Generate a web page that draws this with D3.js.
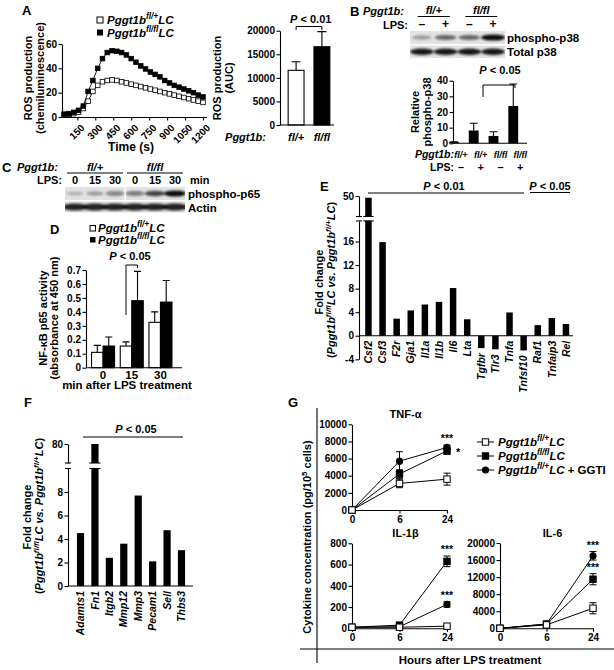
<!DOCTYPE html>
<html>
<head>
<meta charset="utf-8">
<script src="https://cdn.jsdelivr.net/npm/d3@7"></script>
<style>
body { margin: 0; background: #fff; }
svg { font-family: "Liberation Sans", Arial, sans-serif; font-weight: bold; }
</style>
</head>
<body>
<svg width="614" height="670"></svg>
<script>
// ---- data ----
var rosTime = [40, 80, 120, 160, 200, 240, 280, 320, 360, 400, 440, 480, 520, 560, 600,
    640, 680, 720, 760, 800, 840, 880, 920, 960, 1000, 1040, 1080, 1120, 1160, 1200];
var rosFlPlus = [2, 2.2, 2.8, 4, 7, 13, 21, 26, 29, 30, 30.5, 30, 29, 28, 27,
    26, 25, 24, 23, 22, 21, 20, 19, 18, 17, 16, 15, 14, 13, 12];
var rosFlFl = [2.3, 2.8, 3.8, 5.5, 9, 21, 30, 40, 48, 53, 54.5, 54, 53, 51, 48,
    45, 42, 39.5, 37, 35, 33, 30, 28, 26, 24.5, 23, 21.5, 20, 18, 16.5];
var rosTicksX = [150, 300, 450, 600, 750, 900, 1050, 1200];
var rosTicksY = [0, 20, 40, 60];

var aucGroups = ["fl/+", "fl/fl"];
var aucMean = [11600, 16600];
var aucErr = [1800, 3200];
var aucTicks = [0, 5000, 10000, 15000, 20000];

var p38Geno = ["fl/+", "fl/+", "fl/fl", "fl/fl"];
var p38Lps = ["\u2013", "+", "\u2013", "+"];
var p38Mean = [0.8, 8.2, 4.7, 23.8];
var p38Err = [0.2, 4.6, 2.7, 14.1];
var p38Ticks = [0, 10, 20, 30, 40];
var p38Band = [0.3, 0.6, 0.6, 1];
var p38Total = [0.95, 0.95, 0.95, 0.95];

var p65Min = ["0", "15", "30", "0", "15", "30"];
var p65Band = [0.2, 0.3, 0.45, 0.5, 0.75, 1];
var actinBand = [0.9, 0.9, 0.9, 0.9, 0.9, 0.9];

var nfkbMin = ["0", "15", "30"];
var nfkbFlPlus = [0.11, 0.155, 0.325];
var nfkbFlPlusErr = [0.05, 0.03, 0.075];
var nfkbFlFl = [0.155, 0.48, 0.47];
var nfkbFlFlErr = [0.065, 0.21, 0.155];
var nfkbTicks = [0, 0.1, 0.2, 0.3, 0.4, 0.5, 0.6, 0.7];

var eGenes = ["Csf2", "Csf3", "F2r", "Gja1", "Il1a", "Il1b", "Il6", "Lta", "Tgfbr",
    "Tlr3", "Tnfa", "Tnfsf10", "Raf1", "Tnfaip3", "Rel"];
var eFold = [49.7, 15.9, 2.9, 4.3, 5.3, 5.75, 8.1, 2.8, -2.1, -2.3, 3.95, -2.5, 1.8, 3.0, 2.0];
var eTicksLow = [-4, 0, 4, 8, 12, 16];
var eTicksUp = [50];

var fGenes = ["Adamts1", "Fn1", "Itgb2", "Mmp12", "Mmp3", "Pecam1", "Sell", "Thbs3"];
var fFold = [4.5, 80, 2.4, 3.6, 7.7, 2.1, 4.75, 3.05];
var fTicksLow = [0, 2, 4, 6, 8];
var fTicksUp = [80];

var hours = [0, 6, 24];
var tnfOpen = [0, 3100, 3600], tnfOpenErr = [0, 500, 700];
var tnfFl = [0, 4200, 6900], tnfFlErr = [0, 500, 400];
var tnfGgti = [0, 5700, 7300], tnfGgtiErr = [0, 1100, 250];
var il1bOpen = [10, 10, 20], il1bOpenErr = [0, 5, 5];
var il1bFl = [10, 30, 630], il1bFlErr = [0, 10, 50];
var il1bGgti = [10, 15, 225], il1bGgtiErr = [0, 5, 25];
var il6Open = [0, 800, 4700], il6OpenErr = [0, 200, 1300];
var il6Fl = [0, 1000, 11500], il6FlErr = [0, 200, 1300];
var il6Ggti = [0, 1000, 17000], il6GgtiErr = [0, 200, 1000];

// ---- helpers ----
var svg = d3.select("svg");
var ink = "#000";

var flPlus = [["Pggt1b", "i"], ["fl/+", "is"], ["LC", "i"]];
var flFl = [["Pggt1b", "i"], ["fl/fl", "is"], ["LC", "i"]];
var foldLabel = [["(", ""], ["Pggt1b", "i"], ["fl/fl", "is"], ["LC vs. ", "i"],
    ["Pggt1b", "i"], ["fl/+", "is"], ["LC", "i"], [")", ""]];

function rich(text, parts, size) {
    var shift = 0;
    parts.forEach(function (p) {
        var t = text.append("tspan").text(p[0]);
        var up = p[1].indexOf("s") >= 0 ? -size * 0.4 : 0;
        if (up - shift !== 0) t.attr("dy", up - shift);
        shift = up;
        if (p[1].indexOf("i") >= 0) t.attr("font-style", "italic");
        if (up) t.attr("font-size", size * 0.72);
    });
    return text;
}

function label(x, y, str, size, opts) {
    opts = opts || {};
    var t = svg.append("text")
        .attr("x", x).attr("y", y)
        .attr("font-size", size)
        .attr("fill", ink)
        .attr("text-anchor", opts.anchor || "start");
    if (opts.rotate) t.attr("transform", "rotate(-90," + x + "," + y + ")");
    if (typeof str === "string") {
        t.text(str);
        if (opts.italic) t.attr("font-style", "italic");
    } else {
        rich(t, str, size);
    }
    return t;
}

function hline(x1, x2, y, w) {
    svg.append("line").attr("x1", x1).attr("x2", x2).attr("y1", y).attr("y2", y)
        .attr("stroke", ink).attr("stroke-width", w || 1.1);
}

function vline(x, y1, y2, w) {
    svg.append("line").attr("x1", x).attr("x2", x).attr("y1", y1).attr("y2", y2)
        .attr("stroke", ink).attr("stroke-width", w || 1.1);
}

function plain(d) { return String(d); }

function axisStyle(g) {
    g.attr("font-family", null).attr("font-size", null);
    g.selectAll("path, line").attr("stroke", ink).attr("stroke-width", 1.1);
    g.selectAll("text").attr("font-size", 10).attr("font-weight", "bold").attr("fill", ink);
}

function leftAxis(x, scale, ticks, fmt) {
    var ax = d3.axisLeft(scale).tickValues(ticks).tickSize(3.5).tickSizeOuter(0).tickPadding(1.5)
        .tickFormat(fmt || plain);
    return svg.append("g").attr("transform", "translate(" + x + ",0)").call(ax).call(axisStyle);
}

// upward error bar on a bar chart
function capBars(g, xs, tops, errs, yScale, cap) {
    g.selectAll(null).data(tops).enter().append("path")
        .attr("d", function (d, i) {
            var y1 = yScale(d), y2 = yScale(d + errs[i]);
            return "M" + xs[i] + "," + y1 + "V" + y2 + "M" + (xs[i] - cap / 2) + "," + y2 + "H" + (xs[i] + cap / 2);
        })
        .attr("stroke", ink).attr("stroke-width", 1.1).attr("fill", "none");
}

var defs = svg.append("defs");
defs.append("filter").attr("id", "blur").attr("x", "-50%").attr("y", "-100%")
    .attr("width", "200%").attr("height", "300%")
    .append("feGaussianBlur").attr("stdDeviation", 1.1);

function blot(id, x0, x1, y0, h, bands, rx, ry) {
    var lane = d3.scaleBand().domain(d3.range(bands.length)).range([x0, x1]);
    defs.append("clipPath").attr("id", id).append("rect")
        .attr("x", x0).attr("y", y0).attr("width", x1 - x0).attr("height", h);
    var g = svg.append("g");
    g.append("rect").attr("x", x0).attr("y", y0).attr("width", x1 - x0).attr("height", h)
        .attr("fill", "#e2e2e2");
    g.append("g").attr("clip-path", "url(#" + id + ")")
        .append("g").attr("filter", "url(#blur)")
        .selectAll("ellipse").data(bands).enter().append("ellipse")
        .attr("cx", function (d, i) { return lane(i) + lane.bandwidth() / 2; })
        .attr("cy", y0 + h / 2)
        .attr("rx", function (d) { return rx * (0.8 + 0.3 * d); })
        .attr("ry", function (d) { return ry * (0.7 + 0.5 * d); })
        .attr("fill", "#111")
        .attr("opacity", function (d) { return d; });
    return lane;
}

// ---- panel A, ROS time course ----
label(22, 15, "A", 13);
var xA = d3.scaleLinear().domain([22, 1230]).range([62, 206.6]);
var yA = d3.scaleLinear().domain([0, 60]).range([117, 44]);
leftAxis(62, yA, rosTicksY);
var axA = svg.append("g").attr("transform", "translate(0,117)")
    .call(d3.axisBottom(xA).tickValues(rosTicksX).tickSize(3.5).tickSizeOuter(0).tickFormat(plain))
    .call(axisStyle);
axA.selectAll("text").attr("y", 0).attr("dy", "0.35em").attr("text-anchor", "end")
    .attr("transform", "translate(5,9) rotate(-45)");

var rosLine = d3.line().x(function (d, i) { return xA(rosTime[i]); }).y(function (d) { return yA(d); });
[[rosFlPlus, "#fff"], [rosFlFl, ink]].forEach(function (s) {
    svg.append("path").datum(s[0]).attr("d", rosLine)
        .attr("fill", "none").attr("stroke", ink).attr("stroke-width", 0.9);
    svg.append("g").selectAll("rect").data(s[0]).enter().append("rect")
        .attr("x", function (d, i) { return xA(rosTime[i]) - 2.3; })
        .attr("y", function (d) { return yA(d) - 2.3; })
        .attr("width", 4.6).attr("height", 4.6)
        .attr("fill", s[1]).attr("stroke", ink).attr("stroke-width", 0.8);
});
label(131, 151, "Time (s)", 12, { anchor: "middle" });
label(32, 78, "ROS production", 11, { anchor: "middle", rotate: true });
label(43.5, 78, "(chemiluminescence)", 11, { anchor: "middle", rotate: true });

svg.append("rect").attr("x", 97).attr("y", 17).attr("width", 6).attr("height", 6)
    .attr("fill", "#fff").attr("stroke", ink);
svg.append("rect").attr("x", 97).attr("y", 29.5).attr("width", 6).attr("height", 6).attr("fill", ink);
label(107, 24, flPlus, 11.5);
label(107, 36.5, flFl, 11.5);

// ---- panel A, AUC bars ----
var xAuc = d3.scaleBand().domain(aucGroups).range([283, 335]).paddingInner(0.385).paddingOuter(0.2);
var yAuc = d3.scaleLinear().domain([0, 20000]).range([125, 30.7]);
leftAxis(280, yAuc, aucTicks);
var gAuc = svg.append("g");
gAuc.selectAll("rect").data(aucMean).enter().append("rect")
    .attr("x", function (d, i) { return xAuc(aucGroups[i]); })
    .attr("y", function (d) { return yAuc(d); })
    .attr("width", xAuc.bandwidth())
    .attr("height", function (d) { return yAuc(0) - yAuc(d); })
    .attr("fill", function (d, i) { return i ? ink : "#fff"; })
    .attr("stroke", ink).attr("stroke-width", 1.1);
var aucX = aucGroups.map(function (g) { return xAuc(g) + xAuc.bandwidth() / 2; });
capBars(gAuc, aucX, aucMean, aucErr, yAuc, 9);
hline(280, 334, 125);
aucGroups.forEach(function (g, i) { label(aucX[i], 141, g, 11, { anchor: "middle", italic: true }); });
label(266, 141, "Pggt1b:", 11, { anchor: "end", italic: true });
label(221, 78, "ROS production", 11, { anchor: "middle", rotate: true });
label(233, 78, "(AUC)", 11, { anchor: "middle", rotate: true });
svg.append("path").attr("d", "M" + aucX[0] + ",30V26.5H" + aucX[1] + "V30")
    .attr("fill", "none").attr("stroke", ink);
label(aucX[0] - 6, 23, [["P", "i"], [" < 0.01", ""]], 11);

// ---- panel B, blots ----
label(350, 16, "B", 13);
label(363, 15, "Pggt1b:", 11, { italic: true });
label(408, 29, "LPS:", 11, { anchor: "end" });
var laneB = blot("clipB1", 410, 505, 31, 13, p38Band, 11, 2.6);
blot("clipB2", 410, 505, 45.5, 12.5, p38Total, 11, 2.8);
var laneBx = function (i) { return laneB(i) + laneB.bandwidth() / 2; };
p38Lps.forEach(function (s, i) { label(laneBx(i), 28, s, 12, { anchor: "middle" }); });
[[0, "fl/+"], [2, "fl/fl"]].forEach(function (p) {
    var c = (laneBx(p[0]) + laneBx(p[0] + 1)) / 2;
    label(c, 13.5, p[1], 11, { anchor: "middle", italic: true });
    hline(c - 16, c + 16, 16.5, 1);
});
label(507, 41.5, "phospho-p38", 11.5);
label(507, 55.5, "Total p38", 11.5);

// ---- panel B, bars ----
var xB = d3.scaleBand().domain(d3.range(4)).range([449, 518.2]).paddingInner(0.5);
var yB = d3.scaleLinear().domain([0, 40]).range([143.3, 80.7]);
leftAxis(453, yB, p38Ticks);
var gB = svg.append("g");
var bX = d3.range(4).map(function (i) { return xB(i) + xB.bandwidth() / 2; });
gB.selectAll("rect").data(p38Mean).enter().append("rect")
    .attr("x", function (d, i) { return xB(i); })
    .attr("y", function (d) { return yB(d); })
    .attr("width", xB.bandwidth())
    .attr("height", function (d) { return yB(0) - yB(d); })
    .attr("fill", ink);
capBars(gB, bX, p38Mean, p38Err, yB, 8);
hline(453, 527, 143.3);
p38Geno.forEach(function (g, i) { label(bX[i] + 7, 158, g, 9, { anchor: "middle", italic: true }); });
p38Lps.forEach(function (s, i) { label(bX[i] + 7, 171, s, 11, { anchor: "middle" }); });
label(454, 158, "Pggt1b:", 10.5, { anchor: "end", italic: true });
label(454, 171, "LPS:", 10.5, { anchor: "end" });
label(419, 112, "Relative", 11, { anchor: "middle", rotate: true });
label(431, 112, "phospho-p38", 11, { anchor: "middle", rotate: true });
svg.append("path").attr("d", "M483,97V85H515V88").attr("fill", "none").attr("stroke", ink);
label(500, 74, [["P", "i"], [" < 0.05", ""]], 11, { anchor: "middle" });

// ---- panel C, blots ----
label(2, 172, "C", 13);
label(17, 171, "Pggt1b:", 11, { italic: true });
label(62, 184, "LPS:", 11, { anchor: "end" });
var laneC = blot("clipC1", 65, 185, 187, 13, p65Band, 10, 2.6);
blot("clipC2", 65, 185, 201.5, 11, actinBand, 12, 3);
svg.append("rect").attr("x", 124.5).attr("y", 187).attr("width", 1.3).attr("height", 13).attr("fill", "#fff");
var laneCx = function (i) { return laneC(i) + laneC.bandwidth() / 2; };
p65Min.forEach(function (s, i) { label(laneCx(i), 184, s, 11, { anchor: "middle" }); });
label(190, 184, "min", 11);
[[0, "fl/+"], [3, "fl/fl"]].forEach(function (p) {
    var c = laneCx(p[0] + 1);
    label(c, 170.5, p[1], 11, { anchor: "middle", italic: true });
    hline(c - 28, c + 28, 173, 1);
});
label(188, 197.5, "phospho-p65", 11.5);
label(188, 211.5, "Actin", 11.5);

// ---- panel D ----
label(50, 234, "D", 13);
svg.append("rect").attr("x", 90).attr("y", 225.5).attr("width", 5.5).attr("height", 5.5)
    .attr("fill", "#fff").attr("stroke", ink);
svg.append("rect").attr("x", 90).attr("y", 237).attr("width", 5.5).attr("height", 5.5).attr("fill", ink);
label(98, 232, flPlus, 11.5);
label(98, 243.5, flFl, 11.5);

var xD = d3.scaleBand().domain(nfkbMin).range([88.7, 174.8]);
var yD = d3.scaleLinear().domain([0, 0.7]).range([367.7, 270]);
leftAxis(86, yD, nfkbTicks, function (d) { return d === 0 ? "0" : d.toFixed(1); });
var bwD = 11.5;
var gD = svg.append("g");
[[nfkbFlPlus, nfkbFlPlusErr, -1, "#fff"], [nfkbFlFl, nfkbFlFlErr, 0, ink]].forEach(function (s) {
    var xs = nfkbMin.map(function (m) { return xD(m) + xD.bandwidth() / 2 + s[2] * bwD; });
    gD.append("g").selectAll("rect").data(s[0]).enter().append("rect")
        .attr("x", function (d, i) { return xs[i]; })
        .attr("y", function (d) { return yD(d); })
        .attr("width", bwD)
        .attr("height", function (d) { return yD(0) - yD(d); })
        .attr("fill", s[3]).attr("stroke", ink).attr("stroke-width", 1.1);
    capBars(gD, xs.map(function (x) { return x + bwD / 2; }), s[0], s[1], yD, 7);
});
hline(86, 182, 367.7);
nfkbMin.forEach(function (m) { label(xD(m) + xD.bandwidth() / 2, 378.5, m, 11.5, { anchor: "middle" }); });
label(127, 389, "min after LPS treatment", 11.5, { anchor: "middle" });
label(47, 318, "NF-\u03BAB p65 activity", 11, { anchor: "middle", rotate: true });
label(58, 318, "(absorbance at 450 nm)", 11, { anchor: "middle", rotate: true });
var dL = xD("15") + xD.bandwidth() / 2 - bwD / 2, dR = dL + bwD;
svg.append("path").attr("d", "M" + dL + ",315V265H" + dR + "V268").attr("fill", "none").attr("stroke", ink);
label(130, 260, [["P", "i"], [" < 0.05", ""]], 11, { anchor: "middle" });

// ---- broken-axis bar chart (panels E, F) ----
function brokenChart(genes, vals, x, yLow, yUp, lowMax, axisX, axisEnd, ticksLow, ticksUp) {
    leftAxis(axisX, yLow, ticksLow);
    leftAxis(axisX, yUp, ticksUp);
    var g = svg.append("g");
    var bw = x.bandwidth();
    g.selectAll(".lo").data(vals).enter().append("rect")
        .attr("x", function (d, i) { return x(genes[i]); })
        .attr("y", function (d) { return yLow(Math.max(0, Math.min(d, lowMax))); })
        .attr("width", bw)
        .attr("height", function (d) { return Math.abs(yLow(Math.min(d, lowMax)) - yLow(0)); })
        .attr("fill", ink);
    var big = vals.map(function (d, i) { return [d, i]; }).filter(function (p) { return p[0] > lowMax; });
    var yCut = yUp.range()[0];
    g.selectAll(".up").data(big).enter().append("rect")
        .attr("x", function (p) { return x(genes[p[1]]); })
        .attr("y", function (p) { return yUp(p[0]); })
        .attr("width", bw)
        .attr("height", function (p) { return yCut - yUp(p[0]); })
        .attr("fill", ink);
    // break marks on the axis and across the tall bars
    [yCut, yLow(lowMax)].forEach(function (yy) {
        hline(axisX - 3, axisX + 3, yy, 1.1);
        big.forEach(function (p) { hline(x(genes[p[1]]) - 2, x(genes[p[1]]) + bw + 2, yy, 1.1); });
    });
    hline(axisX, axisEnd, yLow(0));
    g.selectAll("text").data(genes).enter().append("text")
        .attr("transform", function (d, i) {
            return "translate(" + (x(d) + bw / 2) + "," + (yLow(Math.min(0, vals[i])) + 5) + ") rotate(-90)";
        })
        .attr("dy", "0.35em")
        .attr("text-anchor", "end")
        .attr("font-size", 10.5)
        .attr("font-style", "italic")
        .attr("fill", ink)
        .text(function (d) { return d; });
}

// ---- panel E ----
label(320, 191, "E", 13);
var xE = d3.scaleBand().domain(eGenes).range([361.4, 573]).paddingInner(0.54).paddingOuter(0.27);
var yElow = d3.scaleLinear().domain([-4, 19.5]).range([359.3, 220.9]);
var yEup = d3.scaleLinear().domain([46.5, 50]).range([216.5, 196]);
brokenChart(eGenes, eFold, xE, yElow, yEup, 19.5, 359, 573, eTicksLow, eTicksUp);
hline(368, 524, 193);
label(444, 189.5, [["P", "i"], [" < 0.01", ""]], 11, { anchor: "middle" });
label(550, 189.5, [["P", "i"], [" < 0.05", ""]], 11, { anchor: "middle" });
hline(530, 570, 192.5, 1);
label(323, 282, "Fold change", 11, { anchor: "middle", rotate: true });
label(335, 280, foldLabel, 11, { anchor: "middle", rotate: true });

// ---- panel F ----
label(24, 407, "F", 13);
var xF = d3.scaleBand().domain(fGenes).range([73.3, 188.7]).paddingInner(0.5).paddingOuter(0.25);
var yFlow = d3.scaleLinear().domain([0, 10]).range([586, 468.5]);
var yFup = d3.scaleLinear().domain([75, 80]).range([463, 444]);
brokenChart(fGenes, fFold, xF, yFlow, yFup, 10, 68, 193, fTicksLow, fTicksUp);
hline(83, 183, 437);
label(136, 433, [["P", "i"], [" < 0.05", ""]], 11, { anchor: "middle" });
label(31, 517, "Fold change", 11, { anchor: "middle", rotate: true });
label(43, 516, foldLabel, 11, { anchor: "middle", rotate: true });

// ---- panel G ----
label(288, 407, "G", 13);
vline(317, 408, 663);
hline(300, 614, 649);
label(470, 664, "Hours after LPS treatment", 11.5, { anchor: "middle" });
label(311, 537, [["Cytokine concentration (pg/10", ""], ["5", "s"], [" cells)", ""]], 11,
    { anchor: "middle", rotate: true });

function marker(g, type, x, y) {
    if (type === "circ") {
        g.append("circle").attr("cx", x).attr("cy", y).attr("r", 3.6).attr("fill", ink);
    } else {
        g.append("rect").attr("x", x - 3.2).attr("y", y - 3.2).attr("width", 6.4).attr("height", 6.4)
            .attr("fill", type === "open" ? "#fff" : ink).attr("stroke", ink).attr("stroke-width", 1);
    }
}

function cytoPanel(title, x0, x1, y, ticks, series, stars) {
    var x = d3.scalePoint().domain(hours).range([x0, x1]);
    leftAxis(x0, y, ticks);
    svg.append("g").attr("transform", "translate(0," + y.range()[0] + ")")
        .call(d3.axisBottom(x).tickSize(3.5).tickSizeOuter(0).tickPadding(2).tickFormat(plain))
        .call(axisStyle);
    var g = svg.append("g");
    var line = d3.line().x(function (d, i) { return x(hours[i]); }).y(function (d) { return y(d); });
    series.forEach(function (s) {
        g.append("path").datum(s.v).attr("d", line).attr("fill", "none")
            .attr("stroke", ink).attr("stroke-width", 1);
    });
    series.forEach(function (s) {
        g.append("g").selectAll("path").data(s.v).enter().append("path")
            .attr("d", function (d, i) {
                var xx = x(hours[i]), a = y(d - s.e[i]), b = y(d + s.e[i]);
                return "M" + xx + "," + a + "V" + b + "M" + (xx - 3.5) + "," + a + "H" + (xx + 3.5) +
                    "M" + (xx - 3.5) + "," + b + "H" + (xx + 3.5);
            })
            .attr("stroke", ink).attr("stroke-width", 1).attr("fill", "none");
    });
    series.forEach(function (s) {
        s.v.forEach(function (d, i) { marker(g, s.type, x(hours[i]), y(d)); });
    });
    stars.forEach(function (st) {
        var s = series[st.s], last = s.v.length - 1;
        if (st.side) {
            label(x(hours[last]) + 9, y(s.v[last]) + 5, st.t, 11);
        } else {
            label(x(hours[last]), y(s.v[last] + s.e[last]) - 3, st.t, 10.5, { anchor: "middle" });
        }
    });
    label((x0 + x1) / 2 + 6, y.range()[1] - 6, title, 11, { anchor: "middle" });
}

cytoPanel("TNF-\u03B1", 352, 447, d3.scaleLinear().domain([0, 10000]).range([510, 424.3]),
    [0, 2000, 4000, 6000, 8000, 10000],
    [{ v: tnfGgti, e: tnfGgtiErr, type: "circ" }, { v: tnfFl, e: tnfFlErr, type: "sq" },
        { v: tnfOpen, e: tnfOpenErr, type: "open" }],
    [{ s: 0, t: "***" }, { s: 1, t: "*", side: true }]);
cytoPanel("IL-1\u03B2", 352, 447, d3.scaleLinear().domain([0, 800]).range([628.3, 543.3]),
    [0, 200, 400, 600, 800],
    [{ v: il1bGgti, e: il1bGgtiErr, type: "circ" }, { v: il1bFl, e: il1bFlErr, type: "sq" },
        { v: il1bOpen, e: il1bOpenErr, type: "open" }],
    [{ s: 0, t: "***" }, { s: 1, t: "***" }]);
cytoPanel("IL-6", 500, 593, d3.scaleLinear().domain([0, 20000]).range([628.3, 543]),
    [0, 4000, 8000, 12000, 16000, 20000],
    [{ v: il6Ggti, e: il6GgtiErr, type: "circ" }, { v: il6Fl, e: il6FlErr, type: "sq" },
        { v: il6Open, e: il6OpenErr, type: "open" }],
    [{ s: 0, t: "***" }, { s: 1, t: "***" }]);

// legend for G
var gLeg = svg.append("g");
[["open", flPlus], ["sq", flFl], ["circ", flPlus.concat([[" + GGTI", ""]])]].forEach(function (row, i) {
    var yy = 442 + i * 14;
    gLeg.append("line").attr("x1", 477).attr("x2", 494).attr("y1", yy).attr("y2", yy)
        .attr("stroke", ink).attr("stroke-width", 1);
    marker(gLeg, row[0], 485.5, yy);
    label(498, yy + 4, row[1], 11.5);
});
</script>
</body>
</html>
